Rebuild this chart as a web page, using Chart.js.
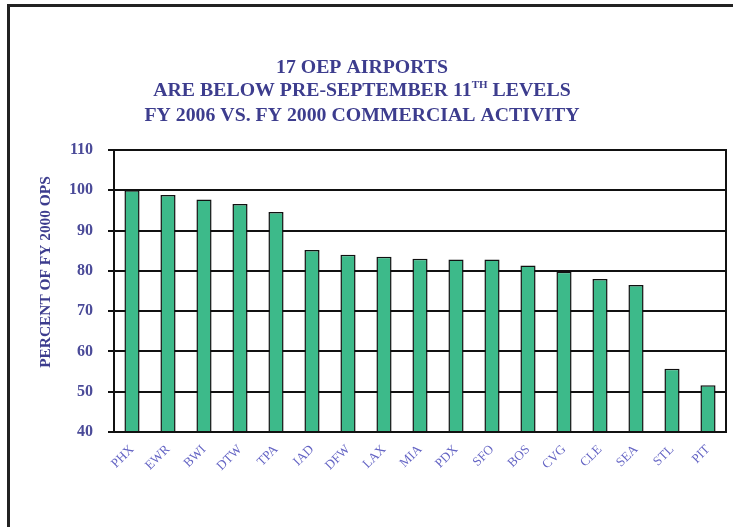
<!DOCTYPE html>
<html>
<head>
<meta charset="utf-8">
<script src="https://cdn.jsdelivr.net/npm/chart.js@4"></script>
<style>
  html, body { margin: 0; padding: 0; background: #fff; }
  #wrap { width: 733px; height: 527px; position: relative; }
</style>
</head>
<body>
<div id="wrap"><canvas id="chart" width="733" height="527"></canvas></div>
<script>
// airport codes and FY2006 ops as percent of FY2000
const airports = ['PHX', 'EWR', 'BWI', 'DTW', 'TPA', 'IAD', 'DFW', 'LAX', 'MIA',
                  'PDX', 'SFO', 'BOS', 'CVG', 'CLE', 'SEA', 'STL', 'PIT'];
const percentOps = [100, 98.8, 97.7, 96.6, 94.6, 85.2, 84.0, 83.5, 83.0,
                    82.8, 82.8, 81.3, 79.8, 78.0, 76.5, 55.7, 51.6];
const titleLines = ['17 OEP AIRPORTS', 'ARE BELOW PRE-SEPTEMBER 11|TH| LEVELS',
                    'FY 2006 VS. FY 2000 COMMERCIAL ACTIVITY'];
const yTitle = 'PERCENT OF FY 2000 OPS';

const navy = '#3d3d8e';
const serif = "'Liberation Serif', 'Times New Roman', serif";

// frame, title, y label and right border of the plot
const decor = {
  id: 'decor',
  beforeDraw(chart) {
    const ctx = chart.ctx;
    ctx.save();
    ctx.fillStyle = '#fff';
    ctx.fillRect(0, 0, chart.width, chart.height);
    ctx.fillStyle = '#222';
    ctx.fillRect(7, 4, 3, chart.height);
    ctx.fillRect(7, 4, chart.width, 3);
    ctx.restore();
  },
  afterDraw(chart) {
    const ctx = chart.ctx;
    const a = chart.chartArea;
    ctx.save();
    ctx.strokeStyle = '#111';
    ctx.lineWidth = 2;
    ctx.strokeRect(a.left, a.top, a.right - a.left, a.bottom - a.top);

    ctx.fillStyle = navy;
    ctx.textBaseline = 'alphabetic';
    const big = 'bold 18px ' + serif;
    const small = 'bold 10px ' + serif;
    const stretch = 1.1;
    const ys = [73, 96, 121];
    titleLines.forEach((line, i) => {
      const parts = line.split('|');
      let w = 0;
      parts.forEach((p, j) => {
        ctx.font = j === 1 ? small : big;
        w += ctx.measureText(p).width;
      });
      ctx.save();
      ctx.translate(362, ys[i]);
      ctx.scale(stretch, 1);
      let x = -w / 2;
      ctx.textAlign = 'left';
      parts.forEach((p, j) => {
        ctx.font = j === 1 ? small : big;
        ctx.fillText(p, x, j === 1 ? -8 : 0);
        x += ctx.measureText(p).width;
      });
      ctx.restore();
    });

    ctx.translate(50, 272);
    ctx.rotate(-Math.PI / 2);
    ctx.font = 'bold 14px ' + serif;
    ctx.scale(1.1, 1);
    ctx.textAlign = 'center';
    ctx.fillText(yTitle, 0, 0);
    ctx.restore();
  }
};

new Chart(document.getElementById('chart'), {
  type: 'bar',
  data: {
    labels: airports,
    datasets: [{
      data: percentOps,
      backgroundColor: '#3dba8a',
      borderColor: '#111',
      borderWidth: 1.5,
      barPercentage: 0.42,
      categoryPercentage: 1
    }]
  },
  options: {
    responsive: false,
    animation: false,
    layout: { padding: { top: 150, right: 7, left: 0, bottom: 0 } },
    plugins: { legend: { display: false }, tooltip: { enabled: false } },
    scales: {
      x: {
        grid: { display: false },
        border: { display: false },
        ticks: {
          autoSkip: false,
          maxRotation: 45,
          minRotation: 45,
          padding: 2,
          color: '#6464c4',
          font: { family: serif, size: 13 }
        },
        afterFit(scale) { scale.height = 95; }
      },
      y: {
        min: 40,
        max: 110,
        ticks: {
          stepSize: 10,
          padding: 15,
          color: '#4a4a98',
          font: { family: serif, size: 16, weight: 'bold' }
        },
        grid: { color: '#111', lineWidth: 2, tickLength: 6 },
        border: { display: true, color: '#111', width: 2 },
        afterFit(scale) { scale.width = 114; }
      }
    }
  },
  plugins: [decor]
});
</script>
</body>
</html>
